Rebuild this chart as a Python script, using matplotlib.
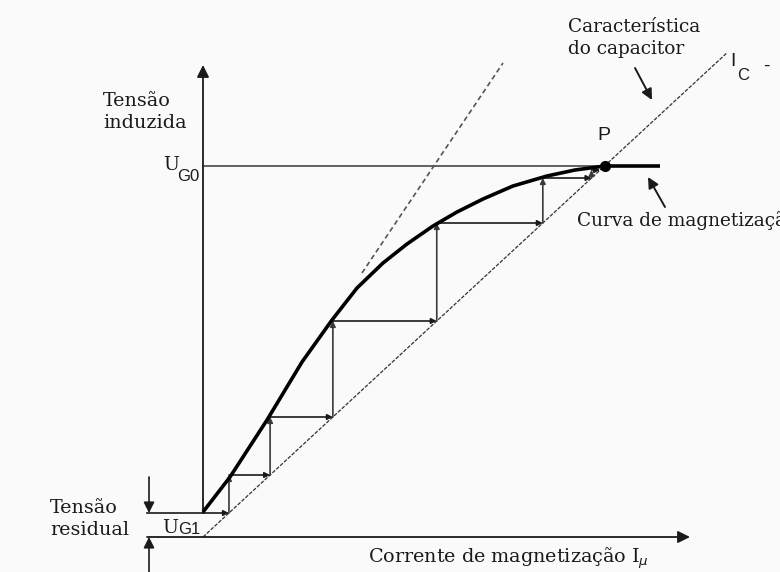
import matplotlib
matplotlib.use("Agg")
import matplotlib.pyplot as plt
import numpy as np

# magnetization curve of the self-excited generator (current, voltage)
curve_i = [0, 27, 64, 99, 129, 154, 180, 204, 230, 254, 280, 310, 344, 372, 402]
curve_u = [25, 60, 117, 175, 217, 249, 274, 293, 311, 325, 338, 351, 361, 367, 371]
sat_end = 457          # flat part of the curve after P

# capacitor characteristic I_C, straight line through the origin
cap_slope = 0.924
cap_end = 524

# voltage levels of the build-up staircase (first one is the residual voltage)
steps = [24, 62, 120, 216, 314, 359, 367]

# dashed tangent to the linear part of the curve
tangent_i = [159, 300]
tangent_u = [264, 474]

serif = "DejaVu Serif"
sans = "Liberation Sans"
ink = "#1a1a1a"
grey = "#555555"

fig = plt.figure(figsize=(7.8, 5.72), dpi=100)
fig.patch.set_facecolor("#fafafa")
ax = fig.add_axes([0, 0, 1, 1])
ax.set_xlim(-203, 577)
ax.set_ylim(-35, 537)
ax.axis("off")


def arrow(x0, y0, x1, y1, lw=1.2, head=9, color=ink):
    ax.annotate("", xy=(x1, y1), xytext=(x0, y0),
                arrowprops=dict(arrowstyle="-|>", lw=lw, color=color,
                                mutation_scale=head, shrinkA=0, shrinkB=0))


# axes of the diagram
arrow(0, steps[0], 0, 472, lw=1.3, head=18)
arrow(-56, 0, 487, 0, lw=1.3, head=18)

# capacitor line and tangent
ci = np.array([0, cap_end])
ax.plot(ci, cap_slope * ci, color="#333333", lw=0.9, ls=(0, (3, 1.2)))
ax.plot(tangent_i, tangent_u, color=grey, lw=1.2, ls=(0, (3, 2)))

# U_G0 level
ax.plot([0, curve_i[-1]], [curve_u[-1], curve_u[-1]], color=grey, lw=1.3)

# magnetization curve
ax.plot(curve_i + [sat_end], curve_u + [curve_u[-1]], color="black", lw=2.6,
        solid_joinstyle="round", solid_capstyle="butt", zorder=4)
ax.plot(curve_i[-1], curve_u[-1], "o", color="black", ms=7, zorder=5)

# residual voltage marker
ax.plot([-56, 0], [steps[0], steps[0]], color=ink, lw=1.2)
arrow(-54, 60, -54, steps[0], lw=1.2, head=16)
arrow(-54, -35, -54, 0, lw=1.2, head=16)

# build-up staircase
x_prev = 0
for k, u in enumerate(steps):
    x_line = u / cap_slope
    arrow(x_prev, u, x_line, u, head=8)
    if k + 1 < len(steps):
        arrow(x_line, u, x_line, steps[k + 1], head=8, color="#3a3a3a")
    x_prev = x_line

# labels
fs = 13.8
ax.text(-100, 425, "Tensão\ninduzida", family=serif, fontsize=fs, color=ink,
        va="center", ha="left", linespacing=1.25)
ax.text(-40, 367, "U", family=serif, fontsize=fs, color=ink, va="baseline")
ax.text(-26, 356, "G0", family=sans, fontsize=12, color=ink, va="baseline")

ax.text(365, 499, "Característica\ndo capacitor", family=serif, fontsize=13.3,
        color=ink, va="center", ha="left", linespacing=1.3)
arrow(432, 469, 449, 437, lw=1.4, head=16)
ax.text(527, 475, "I", family=sans, fontsize=14, color=ink, va="center")
ax.text(534, 462, "C", family=sans, fontsize=12, color=ink, va="center")
ax.text(560, 471, "-", family=sans, fontsize=14, color=ink, va="center")

ax.text(394, 401, "P", family=sans, fontsize=14, color=ink, va="center")
ax.text(374, 316, "Curva de magnetização", family=serif, fontsize=13.3,
        color=ink, va="center", ha="left", clip_on=False)
arrow(462, 330, 445, 360, lw=1.4, head=16)

ax.text(-153, 18, "Tensão\nresidual", family=serif, fontsize=fs, color=ink,
        va="center", ha="left", linespacing=1.25)
ax.text(-41, 9, "U", family=serif, fontsize=fs, color=ink, va="center")
ax.text(-25, 8, "G1", family=sans, fontsize=12, color=ink, va="center")

ax.text(165, -21, "Corrente de magnetização I$_\\mu$", family=serif,
        fontsize=fs, color=ink, va="center", ha="left")

fig.savefig("out.png", dpi=100, facecolor=fig.get_facecolor())
